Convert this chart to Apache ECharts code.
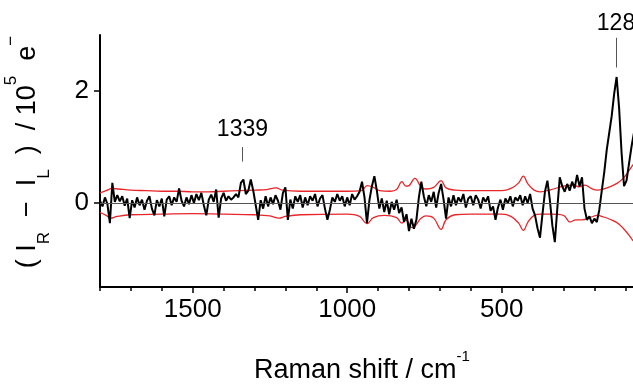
<!DOCTYPE html>
<html>
<head>
<meta charset="utf-8">
<script src="https://cdn.jsdelivr.net/npm/echarts@6/dist/echarts.min.js"></script>
<style>
html,body{margin:0;padding:0;background:#fff;}
#chart{width:633px;height:385px;}
</style>
</head>
<body>
<div id="chart"></div>
<script>
// ---- data ----
const wnStart = 1800;   // first sample (cm^-1)
const wnStep = 8;       // sample spacing (cm^-1)
const signal = [
  // 1800 -> 1728
  0.04,-0.06,0.10,-0.02,-0.36,0.36,0.02,0.14,0.03,0.12,
  // 1720 -> 1648
  -0.05,0.08,-0.27,0.05,-0.08,0.10,-0.04,0.06,-0.12,0.04,
  // 1640 -> 1568
  0.12,-0.10,-0.22,0.05,-0.06,0.08,-0.24,0.06,0.12,-0.04,
  // 1560 -> 1488
  0.10,0.02,0.26,0.04,-0.06,0.10,-0.02,0.14,0.00,0.16,
  // 1480 -> 1408
  0.05,0.18,-0.04,-0.22,0.06,0.15,0.02,0.24,-0.26,0.08,
  // 1400 -> 1328
  0.18,0.04,0.12,0.06,0.10,0.16,0.10,0.36,0.42,0.16,
  // 1320 -> 1248
  0.22,0.42,0.22,-0.04,-0.30,0.05,-0.10,0.12,-0.06,0.10,
  // 1240 -> 1168
  -0.02,0.14,0.04,-0.12,0.18,0.28,-0.30,0.06,-0.10,0.12,
  // 1160 -> 1088
  0.02,0.14,-0.08,0.10,-0.04,0.12,0.04,0.16,-0.06,0.08,
  // 1080 -> 1008
  0.14,-0.10,-0.30,-0.12,0.10,0.02,0.16,0.04,0.12,-0.06,
  // 1000 -> 928
  0.10,-0.04,0.16,0.06,0.12,0.20,0.38,0.10,-0.36,0.05,
  // 920 -> 848
  0.30,0.48,0.22,-0.10,0.08,-0.16,0.04,-0.20,0.02,-0.12,
  // 840 -> 768
  0.06,-0.18,-0.08,-0.34,-0.20,-0.50,-0.28,-0.46,-0.30,0.10,
  // 760 -> 688
  0.38,0.12,-0.06,0.14,0.02,0.20,-0.08,0.18,0.34,0.06,
  // 680 -> 608
  -0.28,0.10,-0.06,0.14,-0.04,0.10,0.02,0.16,-0.08,0.08,
  // 600 -> 528
  0.12,-0.04,0.14,0.06,-0.10,0.10,0.02,0.12,-0.14,-0.06,
  // 520 -> 448
  -0.30,-0.08,0.06,-0.12,0.08,0.00,0.12,-0.06,0.10,0.04,
  // 440 -> 368
  0.14,-0.04,0.12,0.00,0.16,-0.10,-0.22,-0.45,-0.62,-0.20,
  // 360 -> 288
  0.20,0.40,0.05,-0.40,-0.70,-0.10,0.46,0.30,0.20,0.34,
  // 280 -> 208
  0.22,0.38,0.26,0.50,0.30,0.46,-0.10,-0.30,-0.24,-0.36,
  // 200 -> 128
  -0.28,-0.34,-0.12,0.22,0.55,0.95,1.25,1.55,1.95,2.25,
  // 120 -> 72
  1.70,0.90,0.30,0.40,0.70,1.00,1.25
];

const upperWn = [1800,1780,1760,1740,1700,1650,1600,1550,1500,1450,1400,1350,1300,1260,1230,1210,1150,1100,1000,955,935,915,895,860,840,823,810,800,781,760,745,720,696,680,650,600,500,470,445,430,415,395,375,340,300,270,250,230,210,190,170,150,127,107,90,75,60];
const upperVal = [0.18,0.22,0.26,0.25,0.23,0.22,0.21,0.21,0.20,0.20,0.21,0.22,0.23,0.24,0.27,0.23,0.21,0.21,0.21,0.22,0.31,0.28,0.22,0.21,0.24,0.38,0.30,0.31,0.44,0.28,0.25,0.28,0.40,0.27,0.23,0.22,0.22,0.26,0.36,0.48,0.34,0.23,0.20,0.24,0.30,0.32,0.29,0.32,0.26,0.23,0.25,0.29,0.35,0.44,0.56,0.68,0.78];

const lowerWn = [1800,1780,1765,1745,1700,1600,1500,1400,1300,1250,1220,1200,1150,1000,960,936,915,880,840,823,810,790,760,745,720,696,680,650,600,500,470,445,430,415,395,375,340,300,279,260,240,210,190,170,150,127,107,90,75,60];
const lowerVal = [-0.17,-0.22,-0.27,-0.24,-0.21,-0.20,-0.19,-0.20,-0.21,-0.23,-0.27,-0.24,-0.21,-0.20,-0.24,-0.37,-0.26,-0.22,-0.26,-0.36,-0.30,-0.44,-0.27,-0.23,-0.27,-0.47,-0.30,-0.21,-0.20,-0.20,-0.24,-0.36,-0.49,-0.34,-0.22,-0.20,-0.20,-0.22,-0.34,-0.30,-0.30,-0.25,-0.22,-0.25,-0.29,-0.35,-0.45,-0.56,-0.67,-0.76];

const xMajorTicks = [500, 1000, 1500];
const xMinorTicks = [100,200,300,400,500,600,700,800,900,1000,1100,1200,1300,1400,1500,1600,1700,1800];
const yTicks = [0, 2];

const annotations = [
  {text: '1339', wn: 1339, from: 0.74, to: 1.00, gap: 6},
  {text: '128',  wn: 130,  from: 2.42, to: 2.95, gap: 3}
];

// ---- build ----
const FONT = '"Liberation Sans", Arial, Helvetica, sans-serif';
const signalData = signal.map((v, i) => [wnStart - i * wnStep, v]);
const upperData = upperWn.map((w, i) => [w, upperVal[i]]);
const lowerData = lowerWn.map((w, i) => [w, lowerVal[i]]);
const plain = v => String(v);

const chart = echarts.init(document.getElementById('chart'), null, {renderer: 'canvas'});
const xCommon = {
  type: 'value', min: 75, max: 1800, inverse: true,
  splitLine: {show: false}
};
chart.setOption({
  animation: false,
  backgroundColor: '#fff',
  grid: {left: 100, top: 35, right: 0, height: 252, containLabel: false},
  xAxis: [
    Object.assign({}, xCommon, {
      position: 'bottom',
      axisLine: {show: true, onZero: false, lineStyle: {color: '#000', width: 2}},
      axisTick: {show: true, inside: false, length: 6, customValues: xMajorTicks, lineStyle: {color: '#000', width: 1.5}},
      axisLabel: {show: true, customValues: xMajorTicks, formatter: plain, margin: 10, fontSize: 26, fontFamily: FONT, color: '#000'}
    }),
    Object.assign({}, xCommon, {
      position: 'bottom',
      axisLine: {show: false, onZero: false},
      axisTick: {show: true, inside: false, length: 4, customValues: xMinorTicks, lineStyle: {color: '#000', width: 1.5}},
      axisLabel: {show: false}
    })
  ],
  yAxis: {
    type: 'value', min: -1.5, max: 3,
    splitLine: {show: false},
    axisLine: {show: true, onZero: false, lineStyle: {color: '#000', width: 2}},
    axisTick: {show: true, inside: false, length: 6, customValues: yTicks, lineStyle: {color: '#000', width: 1.5}},
    axisLabel: {show: true, customValues: yTicks, formatter: plain, margin: 11, fontSize: 26, fontFamily: FONT, color: '#000'}
  },
  graphic: [
    {
      type: 'text', x: 28, y: 152, rotation: Math.PI / 2,
      style: {
        text: '{m|( I}{s|R}{m|  −  I}{s|L}{m|  )  / 10}{p|5}{m|  e}{p|−}',
        align: 'center', verticalAlign: 'middle', fill: '#000',
        rich: {
          m: {fontSize: 27, fontFamily: FONT, lineHeight: 50, verticalAlign: 'middle', color: '#000'},
          s: {fontSize: 17, fontFamily: FONT, lineHeight: 17, verticalAlign: 'bottom', color: '#000'},
          p: {fontSize: 17, fontFamily: FONT, lineHeight: 32, verticalAlign: 'top', color: '#000'}
        }
      }
    },
    {
      type: 'text', x: 362, y: 371,
      style: {
        text: '{m|Raman shift / cm}{p|-1}',
        align: 'center', verticalAlign: 'middle', fill: '#000',
        rich: {
          m: {fontSize: 27, fontFamily: FONT, lineHeight: 44, verticalAlign: 'middle', color: '#000'},
          p: {fontSize: 15, fontFamily: FONT, lineHeight: 15, verticalAlign: 'top', color: '#000'}
        }
      }
    }
  ],
  series: [
    {
      type: 'line', name: 'lower', data: lowerData, xAxisIndex: 0,
      showSymbol: false, smooth: 0.4, z: 2,
      lineStyle: {color: '#e8262a', width: 1.3},
      markLine: {
        silent: true, symbol: ['none', 'none'], animation: false,
        label: {show: false},
        lineStyle: {color: '#555', width: 1, type: 'solid'},
        data: [{yAxis: 0}]
      }
    },
    {
      type: 'line', name: 'upper', data: upperData, xAxisIndex: 0,
      showSymbol: false, smooth: 0.4, z: 2,
      lineStyle: {color: '#e8262a', width: 1.3}
    },
    {
      type: 'line', name: 'signal', data: signalData, xAxisIndex: 0,
      showSymbol: false, z: 3,
      lineStyle: {color: '#000', width: 2},
      markLine: {
        silent: true, symbol: ['none', 'none'], animation: false,
        lineStyle: {color: '#555', width: 1, type: 'solid'},
        data: annotations.map(a => [
          {coord: [a.wn, a.from], label: {show: true, position: 'end', formatter: a.text, distance: a.gap, fontSize: 23, fontFamily: FONT, color: '#000'}},
          {coord: [a.wn, a.to]}
        ])
      }
    }
  ]
});
</script>
</body>
</html>
